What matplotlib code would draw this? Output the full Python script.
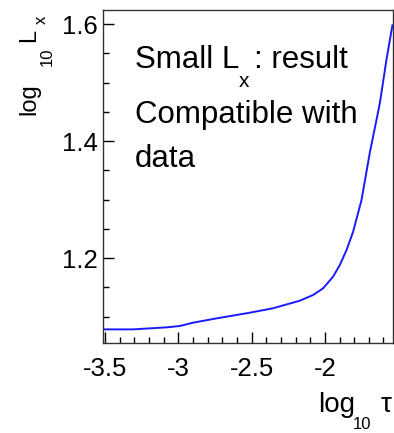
import matplotlib
matplotlib.use("Agg")
import matplotlib.pyplot as plt
from matplotlib.ticker import MultipleLocator

plt.rcParams['font.family'] = ['Liberation Sans', 'DejaVu Sans']

log_tau = [-3.514, -3.309, -3.077, -2.989, -2.900, -2.737, -2.512, -2.355, -2.171,
           -2.080, -2.012, -1.944, -1.898, -1.852, -1.807, -1.750, -1.694, -1.625,
           -1.580, -1.539]
log_Lx = [1.078, 1.078, 1.0815, 1.0838, 1.0894, 1.0969, 1.1065, 1.114, 1.127,
          1.1368, 1.1482, 1.168, 1.188, 1.2137, 1.245, 1.299, 1.379, 1.4644,
          1.5385, 1.598]

x_ticks = [-3.5, -3.0, -2.5, -2.0]
x_ticklabels = ['-3.5', '-3', '-2.5', '-2']
y_ticks = [1.2, 1.4, 1.6]
y_ticklabels = ['1.2', '1.4', '1.6']

W, H = 394, 433
fig = plt.figure(figsize=(W / 100, H / 100), dpi=100)
ax = fig.add_axes([103 / W, 1 - 343 / H, 290 / W, 333 / H])
ax.plot(log_tau, log_Lx, color='#1a1aff', lw=1.4)
ax.set_xlim(-3.514, -1.535)
ax.set_ylim(1.0547, 1.624)
ax.set_xticks(x_ticks)
ax.set_xticklabels(x_ticklabels)
ax.set_yticks(y_ticks)
ax.set_yticklabels(y_ticklabels)
ax.xaxis.set_minor_locator(MultipleLocator(0.1))
ax.yaxis.set_minor_locator(MultipleLocator(0.05))
ax.tick_params(which='both', direction='in', labelsize=18.5, top=False, right=False)
ax.tick_params(which='major', length=8, width=1)
ax.tick_params(which='minor', length=4, width=1)
ax.tick_params(axis='x', pad=10)
ax.tick_params(axis='y', pad=4)
for s in ax.spines.values():
    s.set_linewidth(1.0)
    s.set_color('#333333')


def ptxt(px, py, s, size, **kw):
    fig.text(px / W, 1 - py / H, s, fontsize=size, **kw)


# annotation text
ptxt(135, 68, 'Small L', 22.5, va='baseline', ha='left')
ptxt(239, 72, 'x', 15, va='top', ha='left')
ptxt(254, 68, ': result', 22.5, va='baseline', ha='left')
ptxt(135, 123, 'Compatible with', 22.5, va='baseline', ha='left')
ptxt(135, 167, 'data', 22.5, va='baseline', ha='left')

# x axis title
ptxt(318, 412, 'log', 20, va='baseline', ha='left')
ptxt(353, 417, '10', 12, va='top', ha='left')
ptxt(381, 412, 'τ', 20, va='baseline', ha='left')

# y axis title (rotated)
rot = dict(rotation=90, rotation_mode='anchor', ha='left')
ptxt(35, 115, 'log', 17, va='baseline', **rot)
ptxt(40, 66, '10', 12, va='top', **rot)
ptxt(35, 42, 'L', 17, va='baseline', **rot)
ptxt(34, 24, 'x', 12, va='top', **rot)

fig.savefig('out.png', dpi=100)
